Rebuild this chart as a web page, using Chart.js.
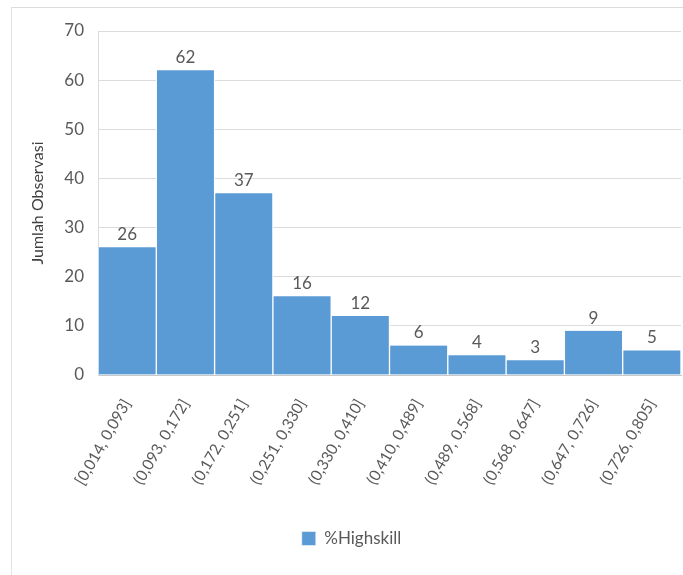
<!DOCTYPE html>
<html>
<head>
<meta charset="utf-8">
<script src="https://cdn.jsdelivr.net/npm/chart.js@4"></script>
<style>
  html, body { margin: 0; padding: 0; background: #fff; }
  #wrap { position: relative; width: 683px; height: 575px; }
  #frame {
    position: absolute; left: 11px; top: 7px; right: 0; bottom: 0;
    border-left: 1px solid #e3e3e3; border-top: 1px solid #dcdcdc;
    pointer-events: none;
  }
  canvas { position: absolute; left: 0; top: 0; }
</style>
</head>
<body>
<div id="wrap">
  <div id="frame"></div>
  <canvas id="histo" width="683" height="575"></canvas>
</div>
<script>
/* ---- datos del histograma ---- */
const kelas = [
  "[0,014, 0,093]", "(0,093, 0,172]", "(0,172, 0,251]", "(0,251, 0,330]",
  "(0,330, 0,410]", "(0,410, 0,489]", "(0,489, 0,568]", "(0,568, 0,647]",
  "(0,647, 0,726]", "(0,726, 0,805]"
];
const frekuensi = [26, 62, 37, 16, 12, 6, 4, 3, 9, 5];
const yTicks = [0, 10, 20, 30, 40, 50, 60, 70];

const FONT = "Lato, 'Open Sans', sans-serif";
const GRIS = "#595959";

// etiquetas de valor encima de cada barra
const labelBarras = {
  id: "labelBarras",
  afterDatasetsDraw(chart) {
    const ctx = chart.ctx;
    const meta = chart.getDatasetMeta(0);
    ctx.save();
    ctx.font = "17px " + FONT;
    ctx.fillStyle = GRIS;
    ctx.textAlign = "center";
    ctx.textBaseline = "bottom";
    meta.data.forEach((bar, i) => {
      ctx.fillText(String(frekuensi[i]), bar.x, bar.y - 4);
    });
    ctx.restore();
  }
};

new Chart(document.getElementById("histo"), {
  type: "bar",
  data: {
    labels: kelas,
    datasets: [{
      label: "%Highskill",
      data: frekuensi,
      backgroundColor: "#5B9BD5",
      borderColor: "#ffffff",
      borderWidth: { left: 1, right: 1, top: 0, bottom: 0 },
      borderSkipped: false,
      categoryPercentage: 1,
      barPercentage: 1
    }]
  },
  options: {
    responsive: false,
    animation: false,
    layout: { padding: { left: 22, right: 2, top: 31, bottom: 18 } },
    plugins: {
      tooltip: { enabled: false },
      legend: {
        position: "bottom",
        labels: {
          color: GRIS,
          font: { family: FONT, size: 17 },
          boxWidth: 14,
          boxHeight: 14,
          padding: 10
        }
      }
    },
    scales: {
      x: {
        grid: { display: false },
        border: { color: "#c9c9c9", width: 1 },
        ticks: {
          color: GRIS,
          font: { family: FONT, size: 15.5 },
          minRotation: 60,
          maxRotation: 60,
          padding: 13,
          autoSkip: false
        },
        afterFit(scale) { scale.height = 145; }
      },
      y: {
        min: 0,
        max: 70,
        afterBuildTicks(scale) { scale.ticks = yTicks.map(v => ({ value: v })); },
        grid: { color: "#dcdcdc", drawTicks: false },
        border: { color: "#dcdcdc" },
        ticks: {
          color: GRIS,
          font: { family: FONT, size: 17 },
          padding: 14
        },
        title: {
          display: true,
          text: "Jumlah Observasi",
          color: "#404040",
          font: { family: FONT, size: 16 },
          padding: { top: 6, bottom: 0 }
        },
        afterFit(scale) { scale.width = 76; }
      }
    }
  },
  plugins: [labelBarras]
});
</script>
</body>
</html>
